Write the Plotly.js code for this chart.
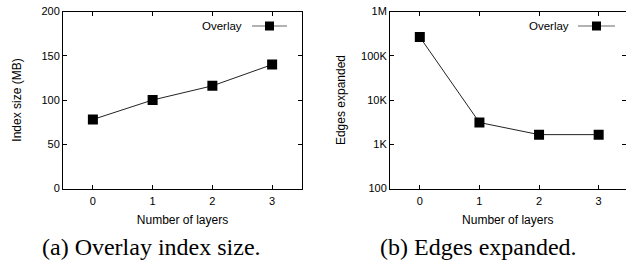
<!DOCTYPE html>
<html><head><meta charset="utf-8">
<script src="https://cdn.plot.ly/plotly-3.0.1.min.js"></script>
<style>html,body{margin:0;padding:0;background:#fff}#c{width:626px;height:260px}</style>
</head><body><div id="c"></div>
<script>
const layers = [0, 1, 2, 3];
const indexSizeMB = [78, 100, 116, 140];
const edgesExpanded = [265000, 3100, 1650, 1650];
const seriesName = "Overlay";
const yTicks1 = [0, 50, 100, 150, 200];
const yTicks2 = [100, 1000, 10000, 100000, 1000000];
const yTickText2 = ["100", "1K", "10K", "100K", "1M"];
const captions = ["(a) Overlay index size.", "(b) Edges expanded."];

const W = 626, H = 260;
const px = x => x / W, py = y => 1 - y / H;
const fam = "Liberation Sans, Arial, sans-serif";
const tickFont = {family: fam, size: 11, color: "#000"};
const titleFont = {family: fam, size: 12, color: "#000"};
const legFont = {family: fam, size: 11.5, color: "#000"};
const capFont = {family: "Liberation Serif, Times New Roman, serif", size: 24, color: "#000"};
const lineColor = "#222";

const mk = {symbol: "square", size: 10, color: "#000"};
const traces = [
  {x: layers, y: indexSizeMB, type: "scatter", mode: "lines+markers", name: seriesName,
   line: {color: lineColor, width: 1}, marker: mk, xaxis: "x", yaxis: "y", showlegend: false},
  {x: layers, y: edgesExpanded, type: "scatter", mode: "lines+markers", name: seriesName,
   line: {color: lineColor, width: 1}, marker: mk, xaxis: "x2", yaxis: "y2", showlegend: false}
];

const axBase = {showline: true, linecolor: "#000", linewidth: 1, mirror: "ticks", ticks: "inside",
  ticklen: 4, tickcolor: "#000", showgrid: false, zeroline: false, tickfont: tickFont, fixedrange: true};

function legendShapes(lineL, lineR, y) {
  const cx = (lineL + lineR) / 2;
  return [
    {type: "line", xref: "paper", yref: "paper", x0: px(lineL), x1: px(lineR), y0: py(y), y1: py(y),
     line: {color: "#666", width: 1.2}},
    {type: "rect", xref: "paper", yref: "paper", x0: px(cx - 4.5), x1: px(cx + 4.5), y0: py(y + 4.5), y1: py(y - 4.5),
     fillcolor: "#000", line: {width: 0}}
  ];
}

const layout = {
  width: W, height: H, margin: {l: 0, r: 0, t: 0, b: 0},
  paper_bgcolor: "#fff", plot_bgcolor: "#fff", showlegend: false,
  xaxis: Object.assign({}, axBase, {domain: [px(63), px(302)], range: [-0.5, 3.5], tickvals: layers, ticklabelstandoff: 2,
    title: {text: "Number of layers", font: titleFont, standoff: 9}, anchor: "y"}),
  yaxis: Object.assign({}, axBase, {domain: [py(188.5), py(11.5)], range: [0, 200], tickvals: yTicks1,
    title: {text: "Index size (MB)", font: titleFont, standoff: 17}, anchor: "x"}),
  xaxis2: Object.assign({}, axBase, {domain: [px(390), px(625.5)], range: [-0.5, 3.45], tickvals: layers, ticklabelstandoff: 2,
    title: {text: "Number of layers", font: titleFont, standoff: 9}, anchor: "y2"}),
  yaxis2: Object.assign({}, axBase, {type: "log", domain: [py(188.5), py(11.5)], range: [2, 6],
    tickvals: yTicks2, ticktext: yTickText2,
    title: {text: "Edges expanded", font: titleFont, standoff: 12}, anchor: "x2"}),
  shapes: [].concat(legendShapes(252, 287, 26), legendShapes(578, 615, 26)),
  annotations: [
    {text: seriesName, xref: "paper", yref: "paper", x: px(244), y: py(26), xanchor: "right", yanchor: "middle", showarrow: false, font: legFont},
    {text: seriesName, xref: "paper", yref: "paper", x: px(571), y: py(26), xanchor: "right", yanchor: "middle", showarrow: false, font: legFont},
    {text: captions[0], xref: "paper", yref: "paper", x: px(151.5), y: py(247), xanchor: "center", yanchor: "middle", showarrow: false, font: capFont},
    {text: captions[1], xref: "paper", yref: "paper", x: px(478.5), y: py(247), xanchor: "center", yanchor: "middle", showarrow: false, font: capFont}
  ]
};

Plotly.newPlot("c", traces, layout, {displayModeBar: false, staticPlot: true});
</script></body></html>
